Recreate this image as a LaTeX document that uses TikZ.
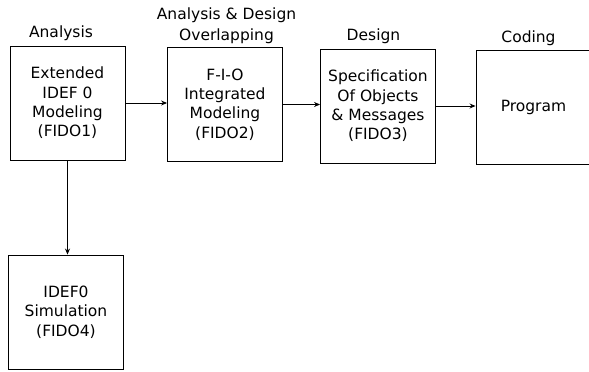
\documentclass[tikz,border=0pt]{standalone}
\usepackage{fontspec}
\setmainfont{DejaVu Sans}
\usetikzlibrary{arrows.meta}
\begin{document}
\begin{tikzpicture}[x=1pt,y=-1pt,
  stage/.style={draw, line width=0.9pt, minimum width=115pt, minimum height=114pt,
    inner sep=0pt, align=center, font=\fontsize{15.5}{19.3}\selectfont},
  phase/.style={inner sep=0pt, align=center, font=\fontsize{15.5}{21}\selectfont},
  flow/.style={line width=0.9pt, -{Stealth[length=6pt,width=5pt]}}]
\useasboundingbox (0,0) rectangle (589,372);
\clip (0,0) rectangle (589,372);
% process boxes
\node[stage] (fido1) at (67.5,103) {Extended\\IDEF 0\\Modeling\\(FIDO1)};
\node[stage] (fido2) at (225,104.5) {F-I-O\\Integrated\\Modeling\\(FIDO2)};
\node[stage] (fido3) at (378,106) {Specification\\Of Objects\\\& Messages\\(FIDO3)};
\node[stage] (prog) at (533.5,107) {Program};
\node[stage] (fido4) at (66,312) {IDEF0\\Simulation\\(FIDO4)};
% phase headings
\node[phase] (hA) at (61,33) {Analysis};
\node[phase] (hAD) at (226.5,26) {Analysis \& Design\\Overlapping};
\node[phase] (hD) at (373.5,36) {Design};
\node[phase] (hC) at (528.5,38) {Coding};
% connectors
\draw[flow] (fido1.east) -- (fido1.east -| fido2.west);
\draw[flow] (fido2.east) -- (fido2.east -| fido3.west);
\draw[flow] (fido3.east) -- (fido3.east -| prog.west);
\draw[flow] (fido1.south) -- (fido1.south |- fido4.north);
\end{tikzpicture}
\end{document}
